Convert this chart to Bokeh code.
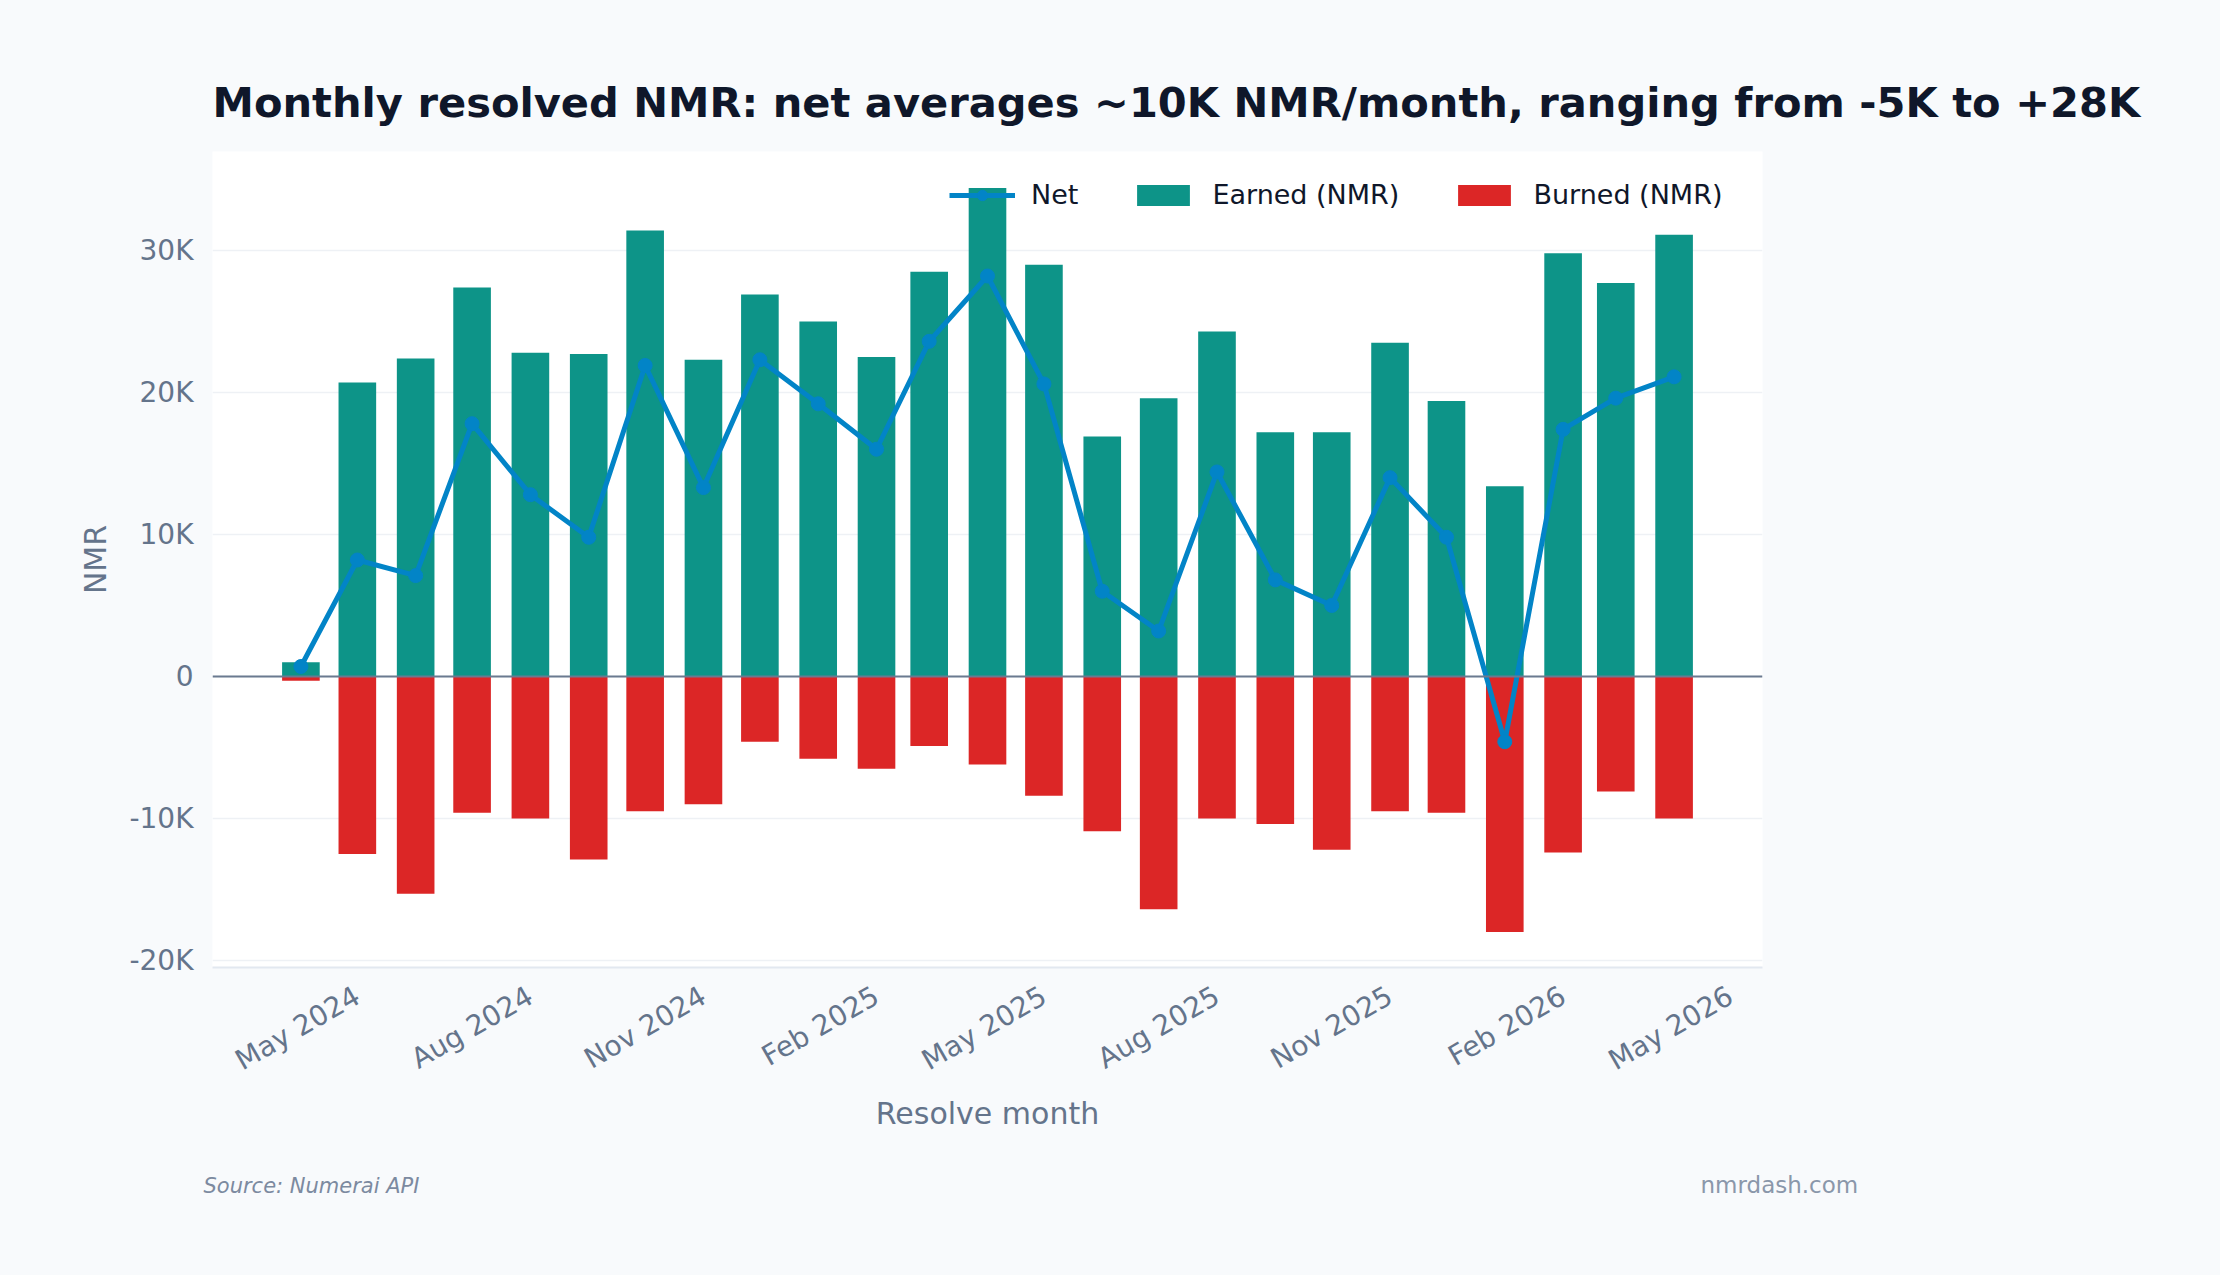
import math
from datetime import datetime
from bokeh.plotting import figure
from bokeh.layouts import column, row
from bokeh.models import (ColumnDataSource, Range1d, FixedTicker, MonthsTicker,
                          DatetimeTickFormatter, Span, Legend, LegendItem)
from bokeh.core.properties import value
from bokeh.embed import file_html
from bokeh.resources import INLINE

# ---- data ----
months = ["2024-04", "2024-05", "2024-06", "2024-07", "2024-08", "2024-09",
          "2024-10", "2024-11", "2024-12", "2025-01", "2025-02", "2025-03",
          "2025-04", "2025-05", "2025-06", "2025-07", "2025-08", "2025-09",
          "2025-10", "2025-11", "2025-12", "2026-01", "2026-02", "2026-03",
          "2026-04"]
earned = [1000, 20700, 22400, 27400, 22800, 22700, 31400, 22300, 26900, 25000,
          22500, 28500, 34400, 29000, 16900, 19600, 24300, 17200, 17200, 23500,
          19400, 13400, 29800, 27700, 31100]
burned = [-300, -12500, -15300, -9600, -10000, -12900, -9500, -9000, -4600, -5800,
          -6500, -4900, -6200, -8400, -10900, -16400, -10000, -10400, -12200, -9500,
          -9600, -18000, -12400, -8100, -10000]
net = [700, 8200, 7100, 17800, 12800, 9800, 21900, 13300, 22300, 19200,
       16000, 23600, 28200, 20600, 6000, 3200, 14400, 6800, 5000, 14000,
       9800, -4600, 17400, 19600, 21100]
ytick_values = [-20000, -10000, 0, 10000, 20000, 30000]
ytick_labels = ["-20K", "-10K", "0", "10K", "20K", "30K"]

title_text = "Monthly resolved NMR: net averages ~10K NMR/month, ranging from -5K to +28K"
source_text = "Source: Numerai API"
site_text = "nmrdash.com"

dates = [datetime.strptime(m + "-01", "%Y-%m-%d") for m in months]
src = ColumnDataSource(dict(x=dates, earned=earned, burned=burned, net=net))

FONT = "DejaVu Sans"
SLATE = "#64748b"
DARK = "#0f172a"
BG = "#f8fafc"

p = figure(width=2220, height=1140, x_axis_type="datetime",
           output_backend="svg", toolbar_location=None,
           x_range=Range1d(datetime(2024, 2, 14), datetime(2026, 5, 18)),
           y_range=Range1d(-20500, 36970),
           min_border_left=212, min_border_right=458,
           min_border_top=151, min_border_bottom=173)
p.border_fill_color = BG
p.background_fill_color = "#ffffff"
p.outline_line_color = None

p.title.text = title_text
p.title.text_font = FONT
p.title.text_font_size = "41.6px"
p.title.text_font_style = "bold"
p.title.text_color = DARK
p.title.align = "left"
p.title.offset = 0
p.title.standoff = 49

bar_w = 20 * 24 * 3600 * 1000
r_earned = p.vbar(x="x", top="earned", bottom=0, width=bar_w, source=src,
                  fill_color="#0d9488", line_color=None)
r_burned = p.vbar(x="x", top=0, bottom="burned", width=bar_w, source=src,
                  fill_color="#dc2626", line_color=None)

zero = Span(location=0, dimension="width", line_color="#6b7a90", line_width=2)
p.add_layout(zero)

r_line = p.line(x="x", y="net", source=src, line_color="#0284c7", line_width=5)
r_pts = p.scatter(x="x", y="net", source=src, size=14, marker="circle",
                  fill_color="#0284c7", line_color="#0284c7")

# axes
p.yaxis.ticker = FixedTicker(ticks=ytick_values)
p.yaxis.major_label_overrides = {v: l for v, l in zip(ytick_values, ytick_labels)}
p.ygrid.ticker = FixedTicker(ticks=ytick_values)
p.ygrid.grid_line_color = "#eef1f5"
p.ygrid.grid_line_width = 1.5
p.xgrid.visible = False

p.xaxis.ticker = MonthsTicker(months=[1, 4, 7, 10])
fmt = "%b %Y"
p.xaxis.formatter = DatetimeTickFormatter(months=fmt, days=fmt, years=fmt,
                                          hours=fmt, minutes=fmt, seconds=fmt,
                                          milliseconds=fmt, microseconds=fmt,
                                          hourmin=fmt, minsec=fmt)
p.xaxis.major_label_orientation = math.pi / 6

for ax in (p.xaxis[0], p.yaxis[0]):
    ax.major_tick_line_color = None
    ax.minor_tick_line_color = None
    ax.major_tick_out = 0
    ax.major_tick_in = 0
    ax.minor_tick_out = 0
    ax.major_label_text_font = FONT
    ax.major_label_text_font_size = "28px"
    ax.major_label_text_color = SLATE
    ax.axis_label_text_font = FONT
    ax.axis_label_text_font_size = "30px"
    ax.axis_label_text_font_style = "normal"
    ax.axis_label_text_color = SLATE

p.yaxis.axis_line_color = None
p.xaxis.axis_line_color = "#e2e8f0"
p.xaxis.axis_line_width = 2
p.yaxis.axis_label = "NMR"
p.xaxis.axis_label = "Resolve month"
p.yaxis.major_label_standoff = 19
p.yaxis.axis_label_standoff = 13
p.xaxis.major_label_standoff = 26
p.xaxis.axis_label_standoff = 2

# legend
legend = Legend(items=[LegendItem(label="Net", renderers=[r_line, r_pts]),
                       LegendItem(label="Earned (NMR)", renderers=[r_earned]),
                       LegendItem(label="Burned (NMR)", renderers=[r_burned])],
                location=(737, 757), orientation="horizontal",
                padding=0, margin=0, border_line_alpha=0,
                background_fill_alpha=0, glyph_width=66, glyph_height=26,
                label_standoff=16, spacing=52,
                label_text_font=FONT, label_text_font_size="27px",
                label_text_color=DARK)
p.add_layout(legend)

# footer strip
f = figure(width=2220, height=135, output_backend="svg", toolbar_location=None,
           x_range=Range1d(0, 2220), y_range=Range1d(135, 0),
           x_axis_location=None, y_axis_location=None,
           min_border_left=0, min_border_right=0, min_border_top=0,
           min_border_bottom=0)
f.border_fill_color = BG
f.background_fill_color = BG
f.outline_line_color = None
f.grid.visible = False
f.text(x=[203], y=[45], text=[source_text], text_font=value(FONT),
       text_font_size="21px", text_font_style="italic", text_color="#7c8aa0",
       text_baseline="middle", text_align="left")
f.text(x=[1700], y=[44], text=[site_text], text_font=value(FONT),
       text_font_size="23px", text_color="#8a97aa",
       text_baseline="middle", text_align="left")

layout = column(p, row(f), spacing=0, styles={"background-color": BG})
open("out.html", "w").write(file_html(layout, INLINE))
